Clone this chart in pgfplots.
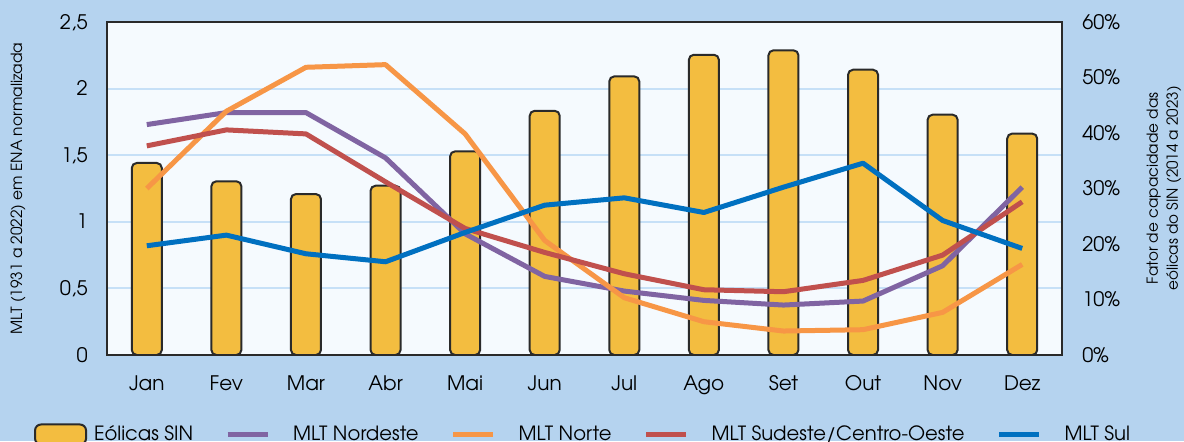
\documentclass[border=0pt]{standalone}
\usepackage{fontspec}
\setmainfont{TeX Gyre Adventor}
\usepackage{pgfplots}
\pgfplotsset{compat=1.18}
\definecolor{bgc}{HTML}{B5D3EF}
\definecolor{plotbg}{HTML}{F5FAFE}
\definecolor{gridc}{HTML}{C6E0F7}
\definecolor{barc}{HTML}{F3BD40}
\definecolor{framec}{HTML}{2A2A2A}
\definecolor{cpurple}{HTML}{8064A2}
\definecolor{corange}{HTML}{F79646}
\definecolor{cred}{HTML}{C0504D}
\definecolor{cblue}{HTML}{0070C0}
\begin{document}
\begin{tikzpicture}
\fill[bgc] (-53.5pt,-43pt) rectangle (538.5pt,177.5pt);
\pgfplotsset{common/.style={scale only axis, width=477.5pt, height=166.5pt,
  at={(0pt,0pt)}, anchor=south west, xmin=-0.5, xmax=11.5}}
% frame, grid, left axis, month labels
\begin{axis}[common, ymin=0, ymax=2.5,
  axis background/.style={fill=plotbg},
  ytick={0,0.5,1,1.5,2,2.5}, yticklabels={0,{0,5},1,{1,5},2,{2,5}},
  ymajorgrids, grid style={gridc, line width=1pt},
  xtick={0,...,11},
  xticklabels={Jan,Fev,Mar,Abr,Mai,Jun,Jul,Ago,Set,Out,Nov,Dez},
  major tick length=0pt,
  axis line style={framec, line width=1pt},
  tick label style={font=\fontsize{10}{12}\selectfont, inner sep=0pt},
  yticklabel style={anchor=base east, xshift=-9.5pt, yshift=-3.5pt},
  xticklabel style={anchor=base, yshift=-17.9pt},
  ylabel={MLT (1931 a 2022) em ENA normalizada},
  ylabel style={font=\fontsize{7.7}{9}\selectfont, at={(axis description cs:-0.0932,0.5)}, anchor=center, rotate=0},
  ]
\addplot[draw=none] coordinates {(0,0)};
\end{axis}
% bars (percent)
\begin{axis}[common, hide axis, ymin=3, ymax=63,
  y filter/.code={\pgfmathparse{\pgfmathresult+3}}]
\addplot[ybar, bar width=15pt, fill=barc, draw=framec, line width=1pt,
  rounded corners=2.5pt] coordinates {
  (0,34.6) (1,31.3) (2,29.0) (3,30.5) (4,36.7) (5,44.0)
  (6,50.2) (7,54.1) (8,54.9) (9,51.4) (10,43.3) (11,39.9)};
\end{axis}
% right axis
\begin{axis}[common, ymin=0, ymax=60,
  axis y line*=right, axis x line=none,
  ytick={0,10,20,30,40,50,60},
  yticklabels={0\%,10\%,20\%,30\%,40\%,50\%,60\%},
  major tick length=0pt,
  axis line style={framec, line width=1pt},
  tick label style={font=\fontsize{10}{12}\selectfont, inner sep=0pt},
  yticklabel style={anchor=base west, xshift=10pt, yshift=-3.5pt},
  ylabel={Fator de capacidade das\\eólicas do SIN (2014 a 2023)},
  ylabel style={font=\fontsize{7.6}{10}\selectfont, align=center,
    at={(axis description cs:1.1068,0.5)}, anchor=center, rotate=0},
  ]
\addplot[draw=none] coordinates {(0,0)};
\end{axis}
% lines
\begin{axis}[common, ymin=0, ymax=2.5,
  xtick=\empty, ytick=\empty,
  axis line style={framec, line width=1pt},
  legend columns=5,
  legend cell align=left,
  legend style={at={(-0.0764,-0.2387)}, anchor=west, draw=none, fill=none,
    inner sep=0pt, outer sep=0pt, font=\fontsize{9.8}{12}\selectfont,
    nodes={inner sep=0pt},
    /tikz/every odd column/.append style={column sep=3.5pt},
    /tikz/every even column/.append style={column sep=16pt}},
  legend image code/.code={\draw[#1] (0pt,0pt) -- (20pt,0pt); \path (28pt,0pt);},
  every axis plot/.append style={line width=2.5pt, line join=round},
  ]
\addlegendimage{legend image code/.code={\draw[fill=barc, draw=framec, line width=1pt, rounded corners=3pt] (0pt,-5pt) rectangle (25.5pt,5pt);}}
\addlegendentry{Eólicas SIN}
\addplot[cpurple] coordinates {
  (0,1.73) (1,1.82) (2,1.82) (3,1.48) (4,0.91) (5,0.59)
  (6,0.48) (7,0.41) (8,0.375) (9,0.405) (10,0.67) (11,1.26)};
\addlegendentry{MLT Nordeste}
\addplot[corange] coordinates {
  (0,1.25) (1,1.83) (2,2.16) (3,2.18) (4,1.66) (5,0.86)
  (6,0.43) (7,0.25) (8,0.18) (9,0.19) (10,0.32) (11,0.68)};
\addlegendentry{MLT Norte}
\addplot[cred] coordinates {
  (0,1.57) (1,1.69) (2,1.66) (3,1.30) (4,0.95) (5,0.77)
  (6,0.61) (7,0.49) (8,0.475) (9,0.56) (10,0.75) (11,1.15)};
\addlegendentry{MLT Sudeste/Centro-Oeste}
\addplot[cblue] coordinates {
  (0,0.82) (1,0.90) (2,0.76) (3,0.70) (4,0.92) (5,1.125)
  (6,1.18) (7,1.07) (8,1.26) (9,1.44) (10,1.01) (11,0.80)};
\addlegendentry{MLT Sul}
\end{axis}
\pgfresetboundingbox
\path[use as bounding box] (-53.5pt,-43pt) rectangle (538.5pt,177.5pt);
\end{tikzpicture}
\end{document}
